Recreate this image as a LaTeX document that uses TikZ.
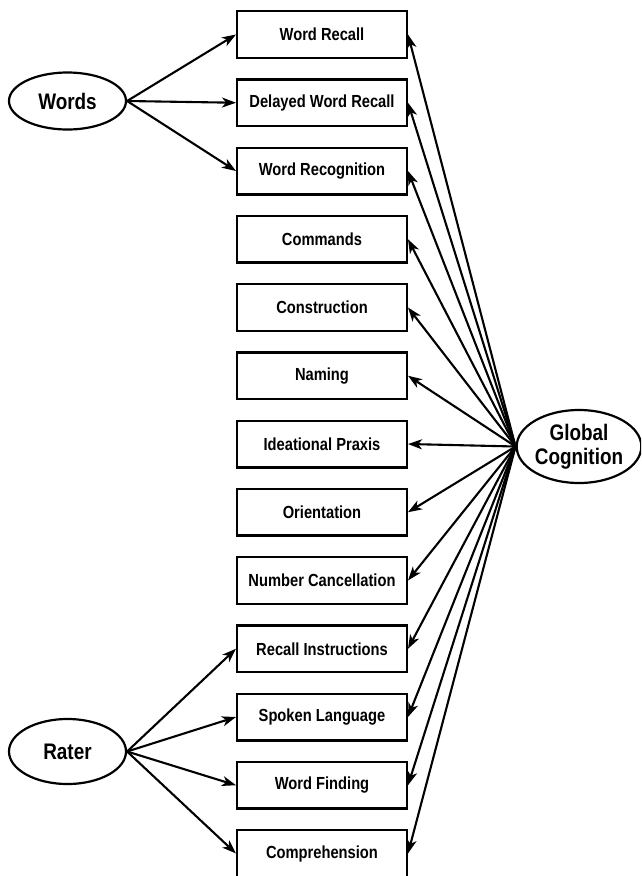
\documentclass[tikz,border=0pt]{standalone}
\usepackage{fontspec}
\newfontfamily\lab{Liberation Sans}[FakeStretch=0.84,BoldFeatures={FakeStretch=0.84}]
\usetikzlibrary{arrows.meta,shapes.geometric}
\begin{document}
\begin{tikzpicture}[x=1pt,y=-1pt,
  ind/.style={draw,line width=2.4pt,minimum width=169.6pt,minimum height=46.6pt,inner sep=0pt,font=\lab\bfseries\fontsize{17.5}{20}\selectfont},
  lat/.style={draw,ellipse,line width=2.2pt,inner sep=0pt,font=\lab\bfseries\fontsize{22.5}{23.5}\selectfont,align=center},
  arr/.style={line width=2.1pt,-{Stealth[length=14pt,width=10pt,inset=4pt]}}]
\useasboundingbox (0,0) rectangle (641,876);
\clip (0,0) rectangle (641,876);
\node[ind] (b0) at (322,34.5) {Word Recall};
\node[ind] (b1) at (322,102.75) {Delayed Word Recall};
\node[ind] (b2) at (322,171) {Word Recognition};
\node[ind] (b3) at (322,239.25) {Commands};
\node[ind] (b4) at (322,307.5) {Construction};
\node[ind] (b5) at (322,375.75) {Naming};
\node[ind] (b6) at (322,444) {Ideational Praxis};
\node[ind] (b7) at (322,512.25) {Orientation};
\node[ind] (b8) at (322,580.5) {Number Cancellation};
\node[ind] (b9) at (322,648.75) {Recall Instructions};
\node[ind] (b10) at (322,717) {Spoken Language};
\node[ind] (b11) at (322,785.25) {Word Finding};
\node[ind] (b12) at (322,853.5) {Comprehension};
\node[lat,minimum width=117pt,minimum height=57pt] (words) at (67.5,101) {Words};
\node[lat,minimum width=117pt,minimum height=65pt] (rater) at (67.5,751.5) {Rater};
\node[lat,minimum width=120pt,minimum height=73pt] (gc) at (579,446.5) {Global\\Cognition};
\foreach \i in {0,1,2} \draw[arr] (words.east) -- (b\i.west);
\foreach \i in {9,10,11,12} \draw[arr] (rater.east) -- (b\i.west);
\foreach \i in {0,...,12} \draw[arr] (gc.west) -- (b\i.east);
\end{tikzpicture}
\end{document}
